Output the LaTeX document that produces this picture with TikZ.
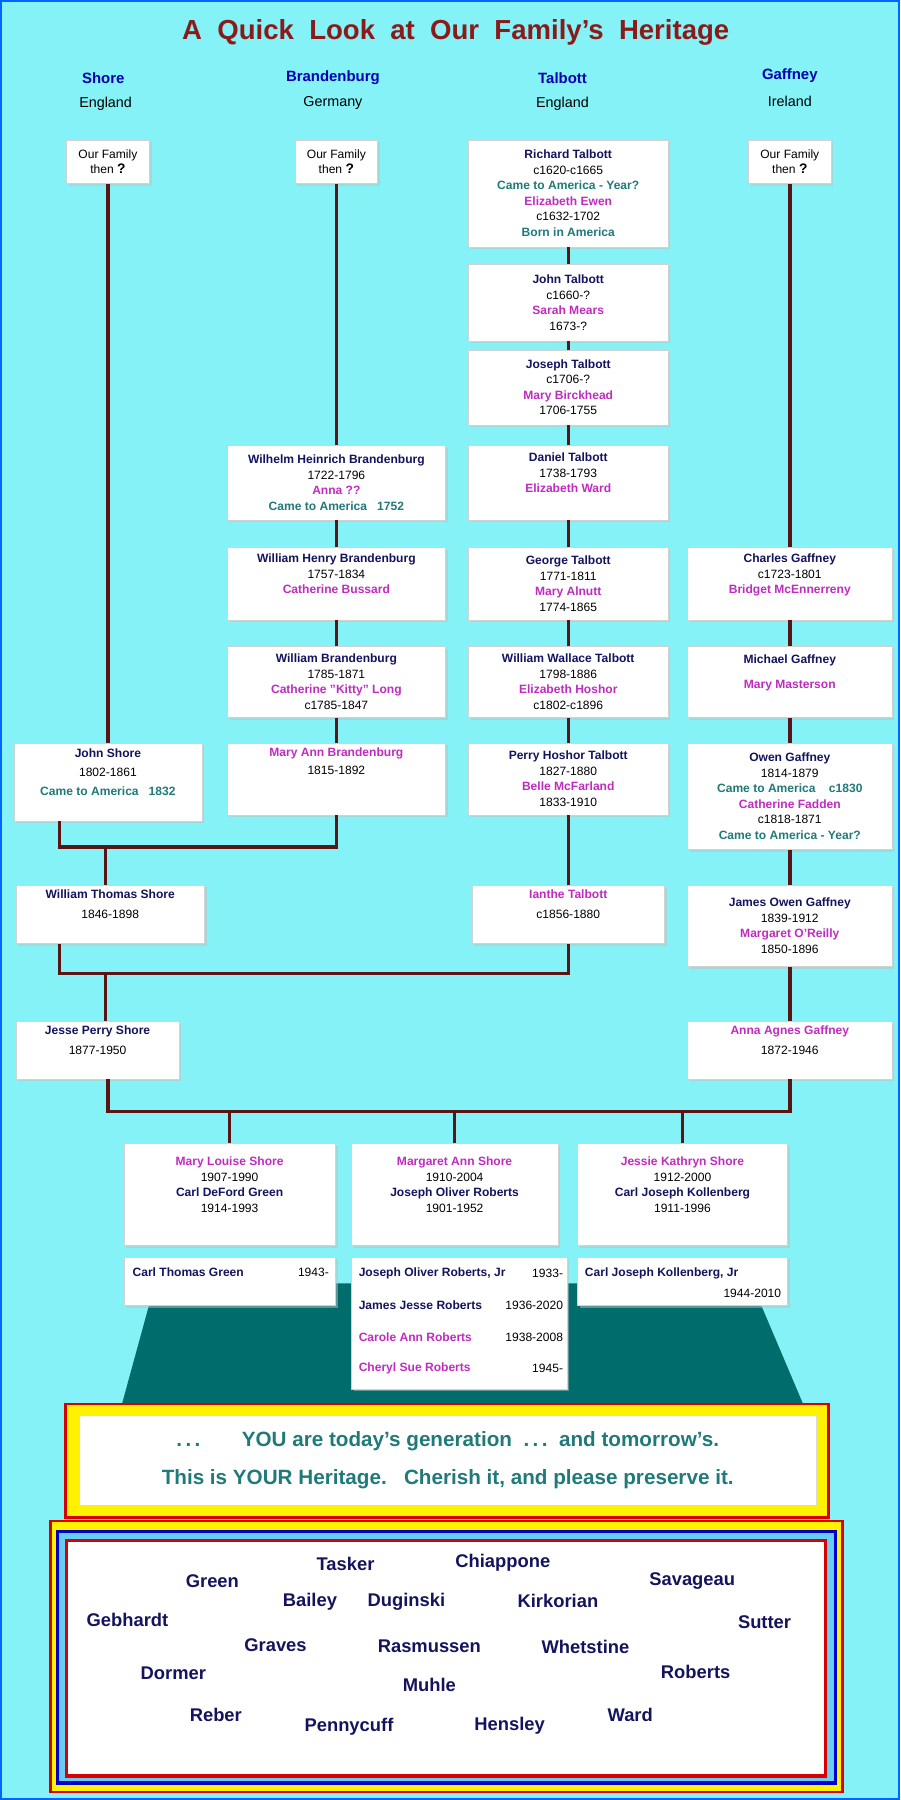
\documentclass[tikz,border=0pt]{standalone}
\usepackage{fontspec}
\setmainfont{Liberation Sans}
\usetikzlibrary{shadows}
\definecolor{bg}{HTML}{84F2F6}
\definecolor{navy}{HTML}{14145E}
\definecolor{mag}{HTML}{C02CC0}
\definecolor{tl}{HTML}{207A7A}
\definecolor{ln}{HTML}{5A1414}
\definecolor{ttl}{HTML}{8B1A1A}
\newcommand{\pn}[1]{\textcolor{navy}{\bfseries #1}}
\newcommand{\pmg}[1]{\textcolor{mag}{\bfseries #1}}
\newcommand{\pt}[1]{\textcolor{tl}{\bfseries #1}}
\begin{document}
\begin{tikzpicture}[x=1pt,y=-1pt,
 box/.style={draw=gray!35,fill=white,drop shadow={shadow xshift=2pt,shadow yshift=-2pt,fill=gray!50},align=center,font=\fontsize{10.5}{13.5}\selectfont,inner sep=2pt},
 conn/.style={draw=ln,line width=3pt},
 hd/.style={font=\fontsize{13}{15}\selectfont\bfseries,text=blue!70!black},
 cty/.style={font=\fontsize{12.5}{15}\selectfont},
 fam/.style={font=\fontsize{16}{18}\selectfont\bfseries,text=navy}]
\fill[bg,draw=blue!60!cyan,line width=2pt] (1,1) rectangle (783,1567);
\useasboundingbox (0,0) rectangle (784,1568);
\node[font=\fontsize{24}{28}\selectfont\bfseries,text=ttl] (title) at (397,28) {A\ \ Quick\ \ Look\ \ at\ \ Our\ \ Family's\ \ Heritage};
% headers
\node[hd] (hs) at (90,68) {Shore}; \node[cty] (hse) at (92,90) {England};
\node[hd] (hb) at (290,68) {Brandenburg}; \node[cty] (hbe) at (290,90) {Germany};
\node[hd] (ht) at (490,68) {Talbott}; \node[cty] (hte) at (490,90) {England};
\node[hd] (hg) at (688,66) {Gaffney}; \node[cty] (hge) at (688,88) {Ireland};
% then boxes
\node[box,minimum width=72,minimum height=38] (s0) at (94,141) {Our Family\\then \textbf{\large ?}};
\node[box,minimum width=72,minimum height=38] (b0) at (293,141) {Our Family\\then \textbf{\large ?}};
\node[box,minimum width=72,minimum height=38] (g0) at (688,141) {Our Family\\then \textbf{\large ?}};
% Talbott
\tikzset{tb/.style={box,minimum width=174}}
\node[tb,minimum height=93] (t1) at (495,168.5) {\pn{Richard Talbott}\\c1620-c1665\\\pt{Came to America - Year?}\\\pmg{Elizabeth Ewen}\\c1632-1702\\\pt{Born in America}};
\node[tb,minimum height=67] (t2) at (495,263.5) {\pn{John Talbott}\\c1660-?\\\pmg{Sarah Mears}\\1673-?};
\node[tb,minimum height=65] (t3) at (495,337.5) {\pn{Joseph Talbott}\\c1706-?\\\pmg{Mary Birckhead}\\1706-1755};
\node[tb,minimum height=65] (t4) at (495,420.5) {\pn{Daniel Talbott}\\1738-1793\\\pmg{Elizabeth Ward}\\\strut};
\node[tb,minimum height=63] (t5) at (495,508.5) {\pn{George Talbott}\\1771-1811\\\pmg{Mary Alnutt}\\1774-1865};
\node[tb,minimum height=62] (t6) at (495,594) {\pn{William Wallace Talbott}\\1798-1886\\\pmg{Elizabeth Hoshor}\\c1802-c1896};
\node[tb,minimum height=63] (t7) at (495,678.5) {\pn{Perry Hoshor Talbott}\\1827-1880\\\pmg{Belle McFarland}\\1833-1910};
\node[box,minimum width=168,minimum height=51] (t8) at (495,796.5) {\pmg{Ianthe Talbott}\\[4pt]c1856-1880\\\strut};
% Brandenburg
\tikzset{bb/.style={box,minimum width=190}}
\node[bb,minimum height=65] (b1) at (293,420.5) {\pn{Wilhelm Heinrich Brandenburg}\\1722-1796\\\pmg{Anna ??}\\\pt{Came to America\ \ \ 1752}};
\node[bb,minimum height=63] (b2) at (293,508.5) {\pn{William Henry Brandenburg}\\1757-1834\\\pmg{Catherine Bussard}\\\strut};
\node[bb,minimum height=62] (b3) at (293,594) {\pn{William Brandenburg}\\1785-1871\\\pmg{Catherine "Kitty" Long}\\c1785-1847};
\node[bb,minimum height=63] (b4) at (293,678.5) {\pmg{Mary Ann Brandenburg}\\[2pt]1815-1892\\\strut\\\strut};
% Gaffney
\tikzset{gb/.style={box,minimum width=178}}
\node[gb,minimum height=63] (g1) at (688,508.5) {\pn{Charles Gaffney}\\c1723-1801\\\pmg{Bridget McEnnerreny}\\\strut};
\node[gb,minimum height=62] (g2) at (688,594) {\pn{Michael Gaffney}\\[8pt]\pmg{Mary Masterson}\\\strut};
\node[gb,minimum height=93] (g3) at (688,693.5) {\pn{Owen Gaffney}\\1814-1879\\\pt{Came to America\ \ \ \ c1830}\\\pmg{Catherine Fadden}\\c1818-1871\\\pt{Came to America - Year?}};
\node[gb,minimum height=71] (g4) at (688,806.5) {\pn{James Owen Gaffney}\\1839-1912\\\pmg{Margaret O'Reilly}\\1850-1896};
\node[gb,minimum height=50] (g5) at (688,915) {\pmg{Anna Agnes Gaffney}\\[4pt]1872-1946\\\strut};
% Shore
\node[box,minimum width=164,minimum height=68] (s1) at (94,681) {\pn{John Shore}\\[3pt]1802-1861\\[3pt]\pt{Came to America\ \ \ 1832}\\\strut};
\node[box,minimum width=164,minimum height=51] (s2) at (96,796.5) {\pn{William Thomas Shore}\\[4pt]1846-1898\\\strut};
\node[box,minimum width=142,minimum height=50] (s3) at (85,915) {\pn{Jesse Perry Shore}\\[4pt]1877-1950\\\strut};
% teal trapezoid
\fill[teal!85!black] (135,1118) -- (655,1118) -- (700,1224) -- (106,1224) -- cycle;
% children
\node[box,minimum width=184,minimum height=89] (c1) at (200,1040.5) {\pmg{Mary Louise Shore}\\1907-1990\\\pn{Carl DeFord Green}\\1914-1993\\\strut};
\node[box,minimum width=180,minimum height=89] (c2) at (396,1040.5) {\pmg{Margaret Ann Shore}\\1910-2004\\\pn{Joseph Oliver Roberts}\\1901-1952\\\strut};
\node[box,minimum width=183,minimum height=89] (c3) at (594.5,1040.5) {\pmg{Jessie Kathryn Shore}\\1912-2000\\\pn{Carl Joseph Kollenberg}\\1911-1996\\\strut};
% grandchildren
\node[box,minimum width=184,minimum height=42] (d1) at (200,1116) {};
\node[font=\fontsize{10.5}{12}\selectfont,anchor=west] (d1a) at (112,1108) {\pn{Carl Thomas Green}};
\node[font=\fontsize{10.5}{12}\selectfont,anchor=east] (d1b) at (290,1108) {1943-};
\node[box,minimum width=188,minimum height=115] (d2) at (400,1152.5) {};
\node[font=\fontsize{10.5}{12}\selectfont,anchor=west] (r1) at (309,1109) {\pn{Joseph Oliver Roberts, Jr}};
\node[font=\fontsize{10.5}{12}\selectfont,anchor=east] (r1d) at (494,1109) {1933-};
\node[font=\fontsize{10.5}{12}\selectfont,anchor=west] (r2) at (309,1137) {\pn{James Jesse Roberts}};
\node[font=\fontsize{10.5}{12}\selectfont,anchor=east] (r2d) at (494,1137) {1936-2020};
\node[font=\fontsize{10.5}{12}\selectfont,anchor=west] (r3) at (309,1165) {\pmg{Carole Ann Roberts}};
\node[font=\fontsize{10.5}{12}\selectfont,anchor=east] (r3d) at (494,1165) {1938-2008};
\node[font=\fontsize{10.5}{12}\selectfont,anchor=west] (r4) at (309,1192) {\pmg{Cheryl Sue Roberts}};
\node[font=\fontsize{10.5}{12}\selectfont,anchor=east] (r4d) at (494,1192) {1945-};
\node[box,minimum width=183,minimum height=42] (d3) at (594.5,1116) {};
\node[font=\fontsize{10.5}{12}\selectfont,anchor=west] (k1) at (506,1109) {\pn{Carl Joseph Kollenberg, Jr}};
\node[font=\fontsize{10.5}{12}\selectfont,anchor=east] (k1d) at (684,1127) {1944-2010};
% connectors
\draw[conn] (s0.south) -- (s1.north);
\draw[conn] (b0.south) -- (b1.north); \draw[conn] (b1.south) -- (b2.north);
\draw[conn] (b2.south) -- (b3.north); \draw[conn] (b3.south) -- (b4.north);
\draw[conn] (t1.south) -- (t2.north); \draw[conn] (t2.south) -- (t3.north);
\draw[conn] (t3.south) -- (t4.north); \draw[conn] (t4.south) -- (t5.north);
\draw[conn] (t5.south) -- (t6.north); \draw[conn] (t6.south) -- (t7.north);
\draw[conn] (t7.south) -- (t8.north);
\draw[conn] (g0.south) -- (g1.north); \draw[conn] (g1.south) -- (g2.north);
\draw[conn] (g2.south) -- (g3.north); \draw[conn] (g3.south) -- (g4.north);
\draw[conn] (g4.south) -- (g5.north);
\coordinate (j1) at (52,738); \coordinate (j2) at (92,738);
\draw[conn] (s1.south -| j1) -- (j1) -| (b4.south);
\draw[conn] (j2) -- (s2.north -| j2);
\coordinate (k1) at (52,848); \coordinate (k2) at (92,848);
\draw[conn] (s2.south -| k1) -- (k1) -| (t8.south);
\draw[conn] (k2) -- (s3.north -| k2);
\coordinate (m1) at (94,968);
\draw[conn] (s3.south -| m1) -- (m1) -| (g5.south);
\draw[conn] (c1.north) -- (c1.north |- m1);
\draw[conn] (c2.north) -- (c2.north |- m1);
\draw[conn] (c3.north) -- (c3.north |- m1);
% message
\draw[red!85!black,line width=2.5pt,fill=yellow] (57,1223) rectangle (722,1322);
\node[draw=gray!30,fill=white,minimum width=642,minimum height=78,align=center,font=\fontsize{18}{33}\selectfont\bfseries,text=tl] (msg) at (390,1272)
 {.\,.\,.\qquad YOU are today's generation\ \ .\,.\,.\ \ and tomorrow's.\\This is YOUR Heritage.\ \ \ Cherish it, and please preserve it.};
% names box
\draw[red!85!black,line width=2pt,fill=yellow] (44,1325) rectangle (734,1561);
\draw[blue!80!black,line width=3pt,fill=cyan!60] (50,1334) rectangle (728,1553);
\draw[red!85!black,line width=3pt,fill=white] (58,1342) rectangle (719,1547);
\node[fam] (n1) at (301,1362) {Tasker};
\node[fam] (n2) at (438,1361) {Chiappone};
\node[fam] (n3) at (185,1377) {Green};
\node[fam] (n4) at (603,1377) {Savageau};
\node[fam] (n5) at (270,1395) {Bailey};
\node[fam] (n6) at (354,1395) {Duginski};
\node[fam] (n7) at (486,1395) {Kirkorian};
\node[fam] (n8) at (111,1411) {Gebhardt};
\node[fam] (n9) at (666,1413) {Sutter};
\node[fam] (n10) at (240,1433) {Graves};
\node[fam] (n11) at (374,1434) {Rasmussen};
\node[fam] (n12) at (510,1435) {Whetstine};
\node[fam] (n13) at (151,1458) {Dormer};
\node[fam] (n14) at (606,1456) {Roberts};
\node[fam] (n15) at (374,1468) {Muhle};
\node[fam] (n16) at (188,1494) {Reber};
\node[fam] (n17) at (304,1504) {Pennycuff};
\node[fam] (n18) at (444,1503) {Hensley};
\node[fam] (n19) at (549,1494) {Ward};
\end{tikzpicture}
\end{document}
